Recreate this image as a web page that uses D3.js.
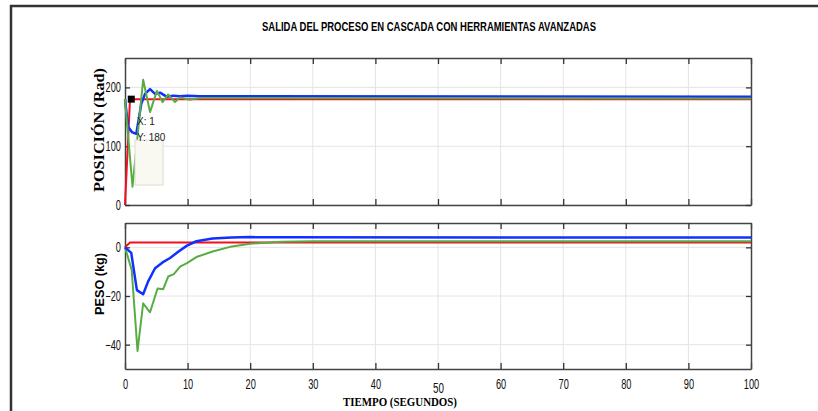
<!DOCTYPE html>
<html>
<head>
<meta charset="utf-8">
<script src="https://cdn.jsdelivr.net/npm/d3@7"></script>
<style>
  body { margin: 0; background: #fff; }
  svg { display: block; }
</style>
</head>
<body>
<svg id="chart" width="818" height="411"></svg>
<script>
// ---- data ----
var xTicks = [0, 10, 20, 30, 40, 50, 60, 70, 80, 90, 100]
var posTicks = [0, 100, 200]
var pesTicks = [-40, -20, 0]

// position (Rad)
var posRedT = [0, 0.8, 100]
var posRed = [0, 180, 180]
var posBlueT = [0, 0.5, 1.1, 1.8, 2.6, 3.2, 4, 4.8, 5.6, 6.7, 7.7, 8.8, 10, 12, 100]
var posBlue = [180, 133, 124, 121, 172, 189, 197, 189, 191, 184, 186, 185, 186, 185, 184]
var posGreenT = [0, 1.2, 2.9, 4, 5.1, 6, 6.9, 8, 8.8, 10.3, 12, 100]
var posGreen = [180, 31, 213, 158, 194, 175, 188, 175, 183, 179, 182, 181]

// weight (kg)
var pesRedT = [0, 0.8, 100]
var pesRed = [0, 2, 2]
var pesBlueT = [0, 1, 1.9, 2.9, 3.7, 4.8, 6, 7.2, 8.5, 9.9, 11.4, 14, 17, 20, 25, 100]
var pesBlue = [0, -2.3, -17.6, -19.3, -14, -8.6, -6.2, -4.4, -1.8, 0.7, 2.5, 3.6, 4, 4.2, 4.1, 4]
var pesGreenT = [0, 1.07, 2, 2.9, 4, 5.2, 6.1, 6.9, 7.8, 8.8, 9.9, 11.4, 14, 16.8, 20, 25, 30, 100]
var pesGreen = [0, -9.3, -42.6, -23, -26.7, -16.9, -17.2, -12, -11, -7.9, -6.5, -4, -1.7, 0.2, 1.5, 2.3, 2.5, 2.5]

var tipX = 1, tipY = 180

var colRed = "#f01020", colBlue = "#1030ff", colGreen = "#58ac44"
var sans = "'Liberation Sans', Arial, sans-serif"
var squeeze = 0.66   // the original uses a narrow face

var svg = d3.select('#chart')

// outer figure frame
svg.append('path')
    .attr('d', 'M11,411 L11,6 L818,6')
    .attr('fill', 'none')
    .attr('stroke', '#333')
    .attr('stroke-width', 2.5)

svg.append('text')
    .attr('x', 262)
    .attr('y', 31)
    .attr('textLength', 334)
    .attr('lengthAdjust', 'spacingAndGlyphs')
    .style('font-family', sans)
    .style('font-weight', 'bold')
    .style('font-size', '12px')
    .text('SALIDA DEL PROCESO EN CASCADA CON HERRAMIENTAS AVANZADAS')

var x = d3.scaleLinear().domain([0, 100]).range([125, 751])
var yPos = d3.scaleLinear().domain([0, 250]).range([205, 58])
var yPes = d3.scaleLinear().domain([-50, 10]).range([369, 223])

function drawPanel(y, yt, showX) {
    var g = svg.append('g')
    var top = y.range()[1], bot = y.range()[0]
    // grid
    g.selectAll('.gx').data(xTicks.slice(1, -1)).enter().append('line')
        .attr('x1', function (d) { return x(d) }).attr('x2', function (d) { return x(d) })
        .attr('y1', top).attr('y2', bot)
        .attr('stroke', '#e4e4e4')
    g.selectAll('.gy').data(yt).enter().append('line')
        .attr('x1', x(0)).attr('x2', x(100))
        .attr('y1', function (d) { return y(d) }).attr('y2', function (d) { return y(d) })
        .attr('stroke', '#e4e4e4')
    // axes
    var xb = g.append('g').attr('transform', 'translate(0,' + bot + ')')
        .call(d3.axisBottom(x).tickValues(xTicks).tickSizeInner(-6).tickSizeOuter(0).tickPadding(10))
    var xt = g.append('g').attr('transform', 'translate(0,' + top + ')')
        .call(d3.axisTop(x).tickValues(xTicks).tickSizeInner(-6).tickSizeOuter(0).tickFormat(''))
    var yl = g.append('g').attr('transform', 'translate(' + x(0) + ',0)')
        .call(d3.axisLeft(y).tickValues(yt).tickSizeInner(-5).tickSizeOuter(0))
    var yr = g.append('g').attr('transform', 'translate(' + x(100) + ',0)')
        .call(d3.axisRight(y).tickValues(yt).tickSizeInner(-5).tickSizeOuter(0).tickFormat(''))
    ;[xb, xt, yl, yr].forEach(function (a) {
        a.select('.domain').attr('stroke', '#444').attr('stroke-width', 1.5)
        a.selectAll('.tick line').attr('stroke', '#333').attr('stroke-width', 1.3)
        a.selectAll('.tick text')
            .style('font-family', sans)
            .style('font-size', '14px')
            .attr('fill', '#111')
            .attr('transform', 'scale(' + squeeze + ',1)')
    })
    yl.selectAll('.tick text').attr('x', -4 / squeeze)
    if (!showX) xb.selectAll('.tick text').remove()
    else {
        xb.selectAll('.tick text').filter(function (d) { return d == 50 })
            .style('font-size', '15px').attr('dy', '14px')
    }
    return g
}

function drawLine(g, y, ts, vs, col, w) {
    var pts = ts.map(function (t, i) { return [t, vs[i]] })
    g.append('path')
        .datum(pts)
        .attr('fill', 'none')
        .attr('stroke', col)
        .attr('stroke-width', w)
        .attr('stroke-linejoin', 'round')
        .attr('d', d3.line().x(function (d) { return x(d[0]) }).y(function (d) { return y(d[1]) }))
}

var p1 = drawPanel(yPos, posTicks, false)
drawLine(p1, yPos, posRedT, posRed, colRed, 2)
drawLine(p1, yPos, posBlueT, posBlue, colBlue, 2.5)
drawLine(p1, yPos, posGreenT, posGreen, colGreen, 2)

// data tip
p1.append('rect')
    .attr('x', x(tipX) - 3.5).attr('y', yPos(tipY) - 3.5)
    .attr('width', 7).attr('height', 7)
    .attr('fill', '#000')
p1.append('rect')
    .attr('x', 135).attr('y', 140).attr('width', 28).attr('height', 45)
    .attr('fill', '#f9f9f2').attr('stroke', '#dcdcd0')
p1.append('text').attr('x', 137).attr('y', 125)
    .style('font-family', sans).style('font-size', '10px').attr('fill', '#222')
    .text('X: ' + tipX)
p1.append('text').attr('x', 137).attr('y', 141)
    .style('font-family', sans).style('font-size', '10px').attr('fill', '#222')
    .text('Y: ' + tipY)

var p2 = drawPanel(yPes, pesTicks, true)
drawLine(p2, yPes, pesRedT, pesRed, colRed, 2)
drawLine(p2, yPes, pesGreenT, pesGreen, colGreen, 2)
drawLine(p2, yPes, pesBlueT, pesBlue, colBlue, 2.5)

// axis titles
svg.append('text')
    .attr('transform', 'translate(104,130) rotate(-90)')
    .attr('text-anchor', 'middle')
    .attr('textLength', 124)
    .attr('lengthAdjust', 'spacingAndGlyphs')
    .style('font-family', "'Liberation Serif', serif")
    .style('font-weight', 'bold')
    .style('font-size', '15px')
    .text('POSICIÓN (Rad)')

svg.append('text')
    .attr('transform', 'translate(104,284) rotate(-90)')
    .attr('text-anchor', 'middle')
    .attr('textLength', 62)
    .attr('lengthAdjust', 'spacingAndGlyphs')
    .style('font-family', sans)
    .style('font-weight', 'bold')
    .style('font-size', '12px')
    .text('PESO (kg)')

svg.append('text')
    .attr('x', 343)
    .attr('y', 406)
    .attr('textLength', 114)
    .attr('lengthAdjust', 'spacingAndGlyphs')
    .style('font-family', "'Liberation Serif', serif")
    .style('font-weight', 'bold')
    .style('font-size', '12px')
    .text('TIEMPO (SEGUNDOS)')
</script>
</body>
</html>
